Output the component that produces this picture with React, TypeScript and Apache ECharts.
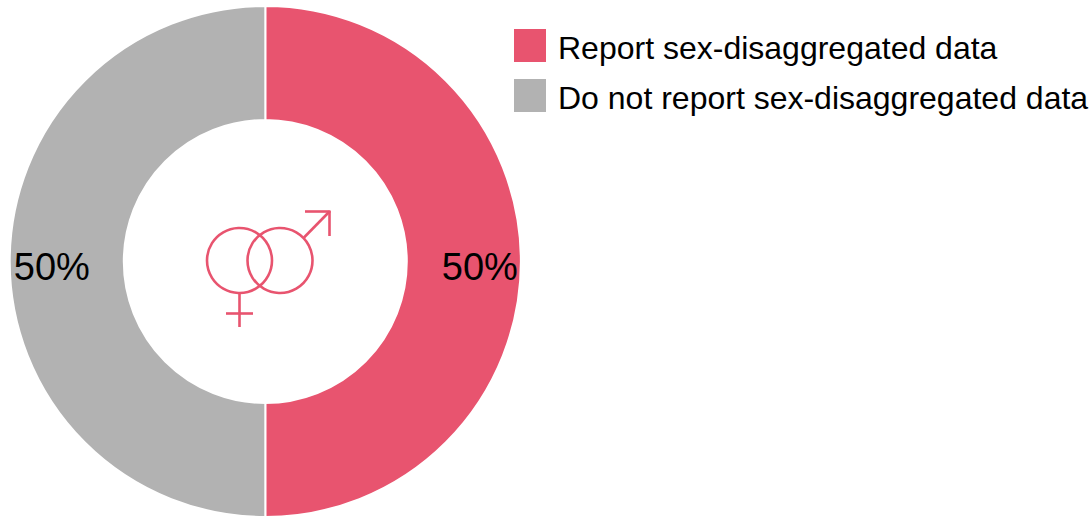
import React, { useEffect, useRef } from "react";
import * as echarts from "echarts";

const categories = ["Report sex-disaggregated data", "Do not report sex-disaggregated data"];
const shares = [50, 50];
const sliceColors = ["#E8546F", "#B2B2B2"];
const symbolStroke = { stroke: "#E8546F", lineWidth: 2.6, fill: "none" };
const textFont = "'Liberation Sans', Arial, sans-serif";

const strokeLine = (x1: number, y1: number, x2: number, y2: number) => ({
  type: "line",
  shape: { x1, y1, x2, y2 },
  style: symbolStroke,
  silent: true,
});

export default function App() {
  const ref = useRef<HTMLDivElement>(null);

  useEffect(() => {
    const chart = echarts.init(ref.current!, undefined, { renderer: "svg" });
    chart.setOption({
      animation: false,
      backgroundColor: "#ffffff",
      legend: {
        orient: "vertical",
        left: 514,
        top: 29,
        padding: 0,
        itemWidth: 32,
        itemHeight: 33,
        itemGap: 15,
        icon: "rect",
        selectedMode: false,
        data: categories,
        itemStyle: { borderWidth: 0 },
        formatter: (name: string) => `{label|${name}}`,
        textStyle: {
          fontFamily: textFont,
          fontSize: 32,
          color: "#000000",
          padding: [0, 0, 0, 7],
          rich: {
            label: {
              fontFamily: textFont,
              fontSize: 32,
              color: "#000000",
              lineHeight: 37,
              verticalAlign: "bottom",
            },
          },
        },
      },
      series: [
        {
          type: "pie",
          center: [265.3, 261.5],
          radius: [141.5, 255.5],
          startAngle: 90,
          clockwise: true,
          silent: true,
          data: categories.map((name, i) => ({
            name,
            value: shares[i],
            itemStyle: { color: sliceColors[i] },
          })),
          itemStyle: { borderColor: "#ffffff", borderWidth: 2 },
          label: {
            show: true,
            position: "inside",
            formatter: "{d}%",
            fontFamily: textFont,
            fontSize: 38,
            color: "#000000",
          },
          labelLine: { show: false },
          labelLayout: (params: any) => ({ dx: params.dataIndex === 0 ? 13 : -12, dy: 5 }),
        },
      ],
      // Overlapping Venus and Mars signs in the hole of the ring
      graphic: [
        { type: "circle", shape: { cx: 239.5, cy: 260.5, r: 32.5 }, style: symbolStroke, silent: true },
        { type: "circle", shape: { cx: 280, cy: 260.5, r: 32.5 }, style: symbolStroke, silent: true },
        strokeLine(239.5, 293, 239.5, 327),
        strokeLine(226, 313.5, 253, 313.5),
        strokeLine(304, 237.5, 329.5, 211.5),
        strokeLine(305, 211.5, 330.5, 211.5),
        strokeLine(329.5, 211, 329.5, 236),
      ],
    });
    return () => chart.dispose();
  }, []);

  return (
    <div
      ref={ref}
      style={{ position: "absolute", left: 0, top: 0, width: 1089, height: 517 }}
    />
  );
}
